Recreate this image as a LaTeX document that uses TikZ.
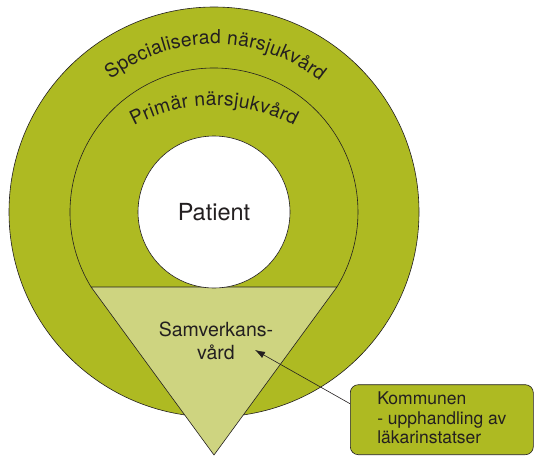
\documentclass[tikz,border=0pt]{standalone}
\usepackage{fontspec}
\setmainfont{TeX Gyre Heros}
\usepackage{tikz}
\usetikzlibrary{arrows.meta,calc,decorations.text}
\definecolor{ringgreen}{RGB}{174,186,34}
\definecolor{samgreen}{RGB}{206,212,128}
\definecolor{edge}{RGB}{35,31,32}

\begin{document}
\begin{tikzpicture}[x=1pt, y=1pt, line width=0.6pt, color=edge,
    ringtext/.style={decorate, decoration={text along path, text align={fit to path},
        text={|\fontsize{19.3}{19.3}\selectfont\color{edge}|#1}}}]
    \useasboundingbox (0,0) rectangle (534,456);
    % the centre of the rings
    \coordinate (c) at (214,244);

    % draw the rings
    \filldraw[fill=ringgreen] (c) circle (205);
    \coordinate (tl) at ($(c)+(211.39:144)$);
    \coordinate (tr) at ($(c)+(-31.39:144)$);
    \draw (tl) arc[start angle=211.39, end angle=-31.39, radius=144];

    % the triangle for samverkansvaard
    \coordinate (tip) at (214,1);
    \filldraw[fill=samgreen, line join=round] (tl) -- (tr) -- (tip) -- cycle;

    % the texts
    \node[circle, draw, fill=white, minimum size=152, inner sep=0pt,
        font=\fontsize{23.5}{28}\selectfont] (patient) at (c) {Patient};
    \path[ringtext={Specialiserad närsjukvård}]
        ($(c)+(128:168)$) arc[start angle=128, end angle=51, radius=168];
    \path[ringtext={Primär närsjukvård}]
        ($(214,182.5)+(118.5:168)$) arc[start angle=118.5, end angle=61.5, radius=168];
    \node[align=center, font=\fontsize{19.5}{22.6}\selectfont] (samverkan) at (216,115)
        {Samverkans-\\vård};

    % the box and the arrow
    \node[draw, fill=ringgreen, rounded corners=8pt, minimum width=183, minimum height=70,
        align=left, anchor=south west, font=\fontsize{17.5}{19.2}\selectfont]
        (kommunen) at (350,1) {Kommunen\\- upphandling av\\läkarinstatser\rule[-4pt]{0pt}{0pt}};
    \coordinate (vard) at (255,106);
    \draw[-{Latex[length=10pt, width=7pt]}] ([yshift=16pt]kommunen.west) -- (vard);
\end{tikzpicture}
\end{document}
